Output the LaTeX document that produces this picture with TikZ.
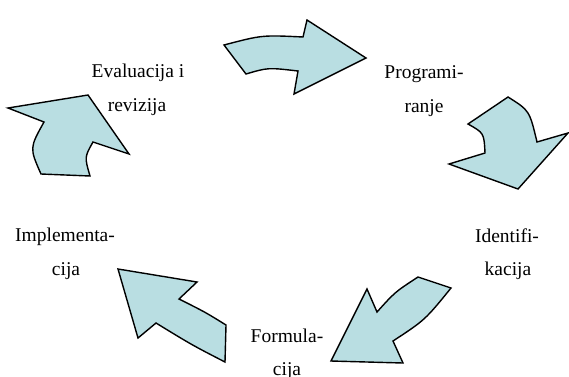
\documentclass[tikz,border=0pt]{standalone}
\usepackage{fontspec}
\setmainfont{Liberation Serif}
\definecolor{arrowfill}{RGB}{185,222,226}
\tikzset{
  cyclearrow/.style={draw=black, fill=arrowfill, line width=1.4pt, line join=miter},
  lbl/.style={anchor=base, inner sep=0pt, font=\fontsize{19.5}{23}\selectfont}
}
\begin{document}
\begin{tikzpicture}[x=1pt,y=-1pt]
\useasboundingbox (0,0) rectangle (569,376);
% top arrow
\draw[cyclearrow] (224,45) .. controls (262,35) .. (303,37) -- (307,20) -- (366,58) -- (294,94) -- (298,71) .. controls (268,67.5) .. (246,74) -- cycle;
% right arrow
\draw[cyclearrow] (468,124) -- (508,97) .. controls (529.5,110.5) .. (537,142) -- (568,133) -- (518,189) -- (449,164) -- (485,153) .. controls (484,133) .. (468,124) -- cycle;
% bottom-right arrow
\draw[cyclearrow] (418,277) -- (451,288) .. controls (425,320) .. (393,341) -- (403,363) -- (331,361) -- (367,289) -- (377,312) .. controls (395,292) .. (418,277) -- cycle;
% bottom-left arrow
\draw[cyclearrow] (118,269) -- (197,282) -- (179,299) .. controls (205,312) .. (226,325) -- (225,362) .. controls (192,345) .. (156,323) -- (138,338) -- cycle;
% left arrow
\draw[cyclearrow] (8,108) -- (88,95) -- (129,154) -- (93,142) .. controls (84.5,157) .. (90,176) -- (41,174) .. controls (29.5,148) .. (44,122) -- cycle;
% labels
\node[lbl] (eval1) at (138,77) {Evaluacija i};
\node[lbl] (eval2) at (137,111) {revizija};
\node[lbl] (prog1) at (424,78) {Programi-};
\node[lbl] (prog2) at (424,112) {ranje};
\node[lbl] (iden1) at (507,242) {Identifi-};
\node[lbl] (iden2) at (508,275) {kacija};
\node[lbl] (impl1) at (65,241) {Implementa-};
\node[lbl] (impl2) at (66,275) {cija};
\node[lbl] (form1) at (287,342) {Formula-};
\node[lbl] (form2) at (287,375) {cija};
\end{tikzpicture}
\end{document}
